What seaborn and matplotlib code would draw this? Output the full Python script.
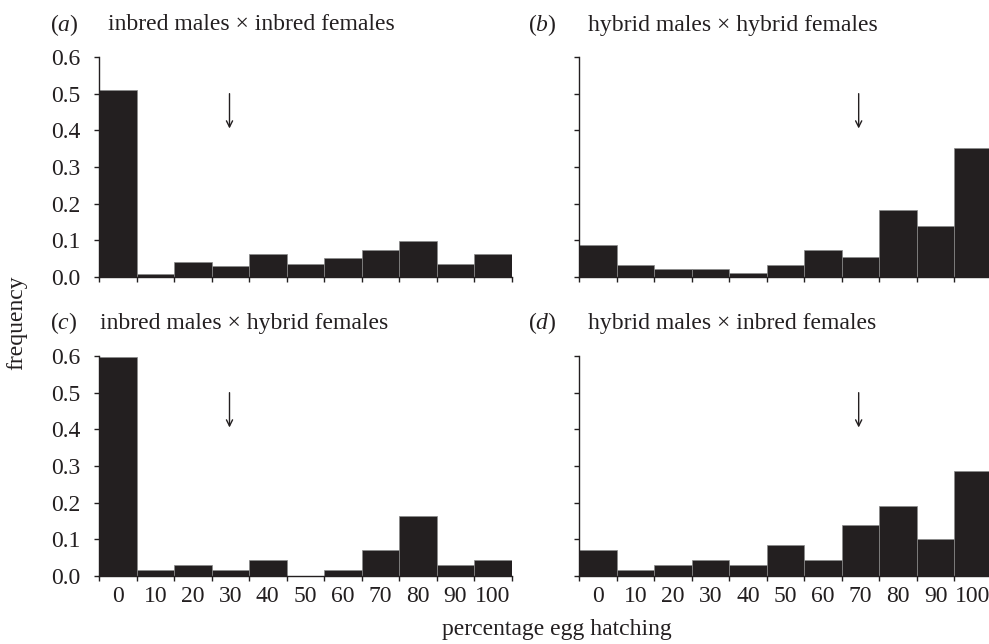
import numpy as np
import pandas as pd
import matplotlib
matplotlib.use("Agg")
import matplotlib.pyplot as plt
import seaborn as sns

categories = ["0", "10", "20", "30", "40", "50", "60", "70", "80", "90", "100"]
inbred_x_inbred = [0.509, 0.007, 0.041, 0.030, 0.064, 0.035, 0.053, 0.075, 0.098, 0.035, 0.064]
hybrid_x_hybrid = [0.086, 0.033, 0.023, 0.023, 0.011, 0.033, 0.075, 0.055, 0.182, 0.140, 0.352]
inbred_x_hybrid = [0.596, 0.016, 0.029, 0.016, 0.044, 0.0, 0.016, 0.071, 0.165, 0.029, 0.044]
hybrid_x_inbred = [0.071, 0.016, 0.030, 0.045, 0.030, 0.085, 0.045, 0.139, 0.192, 0.100, 0.287]
panel_letters = ["a", "b", "c", "d"]
panel_titles = ["inbred males \u00d7 inbred females", "hybrid males \u00d7 hybrid females",
                "inbred males \u00d7 hybrid females", "hybrid males \u00d7 inbred females"]
arrow_positions = [2.98, 6.95, 2.98, 6.95]  # category index of mean
yticks = [0.0, 0.1, 0.2, 0.3, 0.4, 0.5, 0.6]

sns.set_theme(style="ticks")
plt.rcParams["font.family"] = ["Liberation Serif", "DejaVu Serif"]
plt.rcParams["mathtext.fontset"] = "custom"
plt.rcParams["mathtext.it"] = "Liberation Serif:italic"
plt.rcParams["mathtext.rm"] = "Liberation Serif"

fs = 17
fig = plt.figure(figsize=(9.89, 6.44), dpi=100)
W, H = 989, 644
bw = 37.5
lefts = [99, 579.3, 99, 579.3]
bottoms = [277, 277, 576, 576]
ph = 220
data = [inbred_x_inbred, hybrid_x_hybrid, inbred_x_hybrid, hybrid_x_inbred]
bar_color = "#231f20"

for i in range(4):
    ax = fig.add_axes([lefts[i] / W, (H - bottoms[i]) / H, 11 * bw / W, ph / H])
    df = pd.DataFrame({"cat": categories, "freq": data[i]})
    sns.barplot(data=df, x="cat", y="freq", order=categories, color=bar_color,
                width=1.0, saturation=1, edgecolor="#8a8a8a", linewidth=0.5, ax=ax)
    ax.set_xlim(-0.5, 10.5)
    ax.set_ylim(0, 0.6)
    for s in ["top", "right"]:
        ax.spines[s].set_visible(False)
    ax.spines["left"].set_color("#231f20")
    ax.spines["bottom"].set_color("#231f20")
    ax.spines["left"].set_linewidth(1.0)
    ax.spines["bottom"].set_linewidth(1.0)
    ax.set_xlabel("")
    ax.set_ylabel("")
    edges = np.arange(-0.5, 11, 1.0)
    ax.set_xticks(edges, minor=True)
    ax.tick_params(axis="x", which="minor", length=3.5, width=1, color="#231f20", direction="out")
    if i >= 2:
        ax.set_xticks(range(len(categories)), categories)
        ax.tick_params(axis="x", which="major", length=0, labelsize=fs, pad=7, labelcolor="#231f20")
    else:
        ax.set_xticks([])
    ax.set_yticks(yticks)
    ax.tick_params(axis="y", length=3.5, width=1, color="#231f20", labelsize=fs, pad=10, labelcolor="#231f20")
    if i % 2 == 0:
        ax.set_yticklabels([f"{v:.1f}" for v in yticks])
    else:
        ax.set_yticklabels([])
    ax.annotate("", xy=(arrow_positions[i], 0.405), xytext=(arrow_positions[i], 0.5),
                arrowprops=dict(arrowstyle="->", color="#231f20", lw=1.0,
                                mutation_scale=11, shrinkA=0, shrinkB=0))
    # panel titles
    lx = [50, 528, 50, 528][i]
    tx = [108, 588, 100, 588][i]
    ty = [25, 25, 323, 323][i]
    fig.text(lx / W, 1 - ty / H, f"(${panel_letters[i]}$)", fontsize=fs, va="center", ha="left",
             color="#231f20")
    fig.text(tx / W, 1 - ty / H, panel_titles[i], fontsize=fs, va="center", ha="left",
             color="#231f20")

fig.text(17 / W, 1 - 323 / H, "frequency", rotation=90, fontsize=fs, va="center", ha="center",
         color="#231f20")
fig.text(557 / W, 1 - 630 / H, "percentage egg hatching", fontsize=fs, va="center", ha="center",
         color="#231f20")

fig.savefig("out.png", dpi=100)
